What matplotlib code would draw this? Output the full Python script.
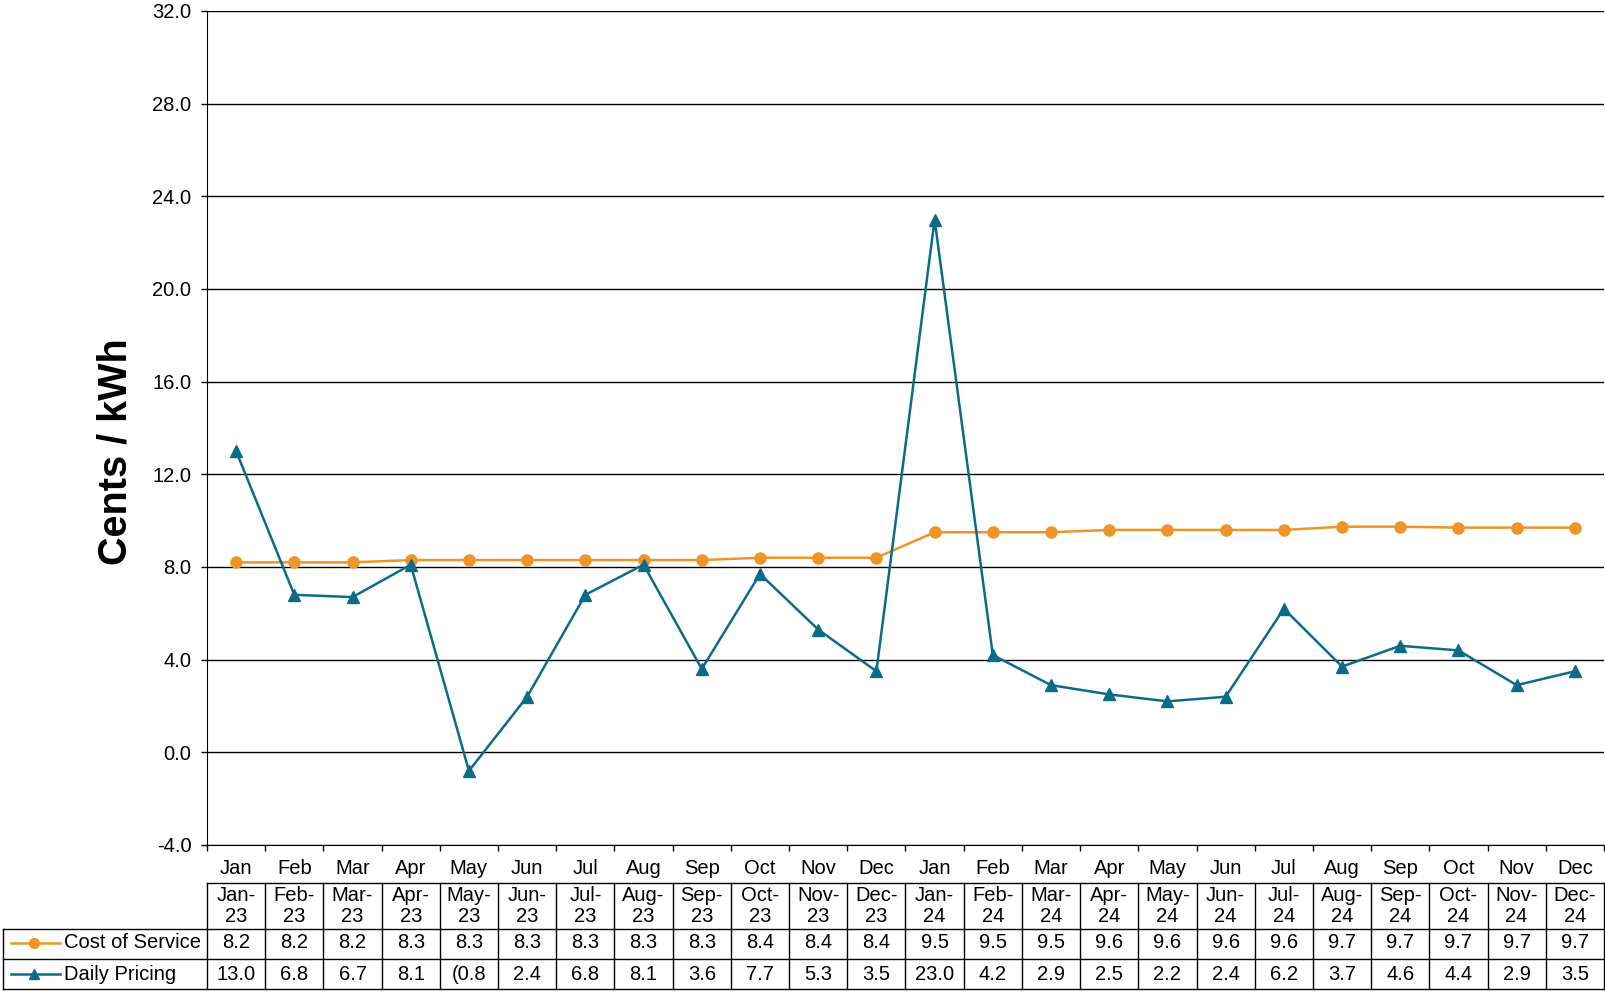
import matplotlib
matplotlib.use("Agg")
import matplotlib.pyplot as plt
from matplotlib.transforms import blended_transform_factory
from matplotlib.lines import Line2D

plt.rcParams['font.family'] = ['Liberation Sans', 'DejaVu Sans']

months = ["Jan", "Feb", "Mar", "Apr", "May", "Jun", "Jul", "Aug", "Sep", "Oct", "Nov", "Dec"] * 2
date_labels = [f"{m}-\n{y}" for y in ("23", "24") for m in
               ["Jan", "Feb", "Mar", "Apr", "May", "Jun", "Jul", "Aug", "Sep", "Oct", "Nov", "Dec"]]
cost_of_service = [8.2, 8.2, 8.2, 8.3, 8.3, 8.3, 8.3, 8.3, 8.3, 8.4, 8.4, 8.4,
                   9.5, 9.5, 9.5, 9.6, 9.6, 9.6, 9.6, 9.74, 9.74, 9.7, 9.7, 9.7]
daily_pricing = [13.0, 6.8, 6.7, 8.1, -0.8, 2.4, 6.8, 8.1, 3.6, 7.7, 5.3, 3.5,
                 23.0, 4.2, 2.9, 2.5, 2.2, 2.4, 6.2, 3.7, 4.6, 4.4, 2.9, 3.5]
yticks = [-4, 0, 4, 8, 12, 16, 20, 24, 28, 32]

ORANGE = "#EE9527"
TEAL = "#0B6C8A"

W, H = 1606, 993
fig = plt.figure(figsize=(W / 100, H / 100), dpi=100)
L, R, T, B = 207, 1604, 11, 845
ax = fig.add_axes([L / W, 1 - B / H, (R - L) / W, (B - T) / H])

n = len(months)
x = list(range(n))
ax.plot(x, cost_of_service, color=ORANGE, lw=1.8, marker='o', ms=8, zorder=3)
ax.plot(x, daily_pricing, color=TEAL, lw=1.8, marker='^', ms=8, zorder=4)

fs = 14.5
ax.set_xlim(-0.5, n - 0.5)
ax.set_ylim(-4, 32)
ax.set_yticks(yticks)
ax.set_yticklabels([f"{v:.1f}" for v in yticks], fontsize=fs)
ax.yaxis.grid(True, color='black', lw=1)
ax.set_axisbelow(True)
for s in ('top', 'right'):
    ax.spines[s].set_visible(False)
ax.spines['left'].set_color('black')
ax.spines['bottom'].set_color('black')
ax.tick_params(axis='y', length=4.3, width=1, pad=7)
ax.set_xticks([i - 0.5 for i in range(n + 1)])
ax.set_xticklabels([])
ax.tick_params(axis='x', length=4.3, width=1, direction='out')

fig.text(116 / W, 1 - 452 / H, "Cents / kWh", rotation=90, fontsize=28.5, fontweight='bold',
         ha='center', va='center')

# data table
tr = blended_transform_factory(ax.transData, fig.transFigure)
def fy(p):
    return 1 - p / H

y_month, y_top, y_mid1, y_mid2, y_bot = 869, 883, 929, 959, 989
for i in range(n):
    ax.text(i, fy(y_month), months[i], transform=tr, ha='center', va='center', fontsize=fs, clip_on=False)
    ax.text(i, fy(906), date_labels[i], transform=tr, ha='center', va='center', fontsize=fs,
            linespacing=1.15, clip_on=False)
    ax.text(i, fy(943), f"{cost_of_service[i]:.1f}", transform=tr, ha='center', va='center',
            fontsize=fs, clip_on=False)
    v = daily_pricing[i]
    s = f"{v:.1f}" if v >= 0 else f"({abs(v):.1f}"
    ax.text(i, fy(974), s, transform=tr, ha='center', va='center', fontsize=fs, clip_on=False)

lines = []
lines.append(Line2D([-0.5, n - 0.5], [fy(y_top)] * 2, transform=tr))
for yy in (y_mid1, y_mid2, y_bot):
    lines.append(Line2D([3 / W, R / W], [fy(yy)] * 2, transform=fig.transFigure))
for i in range(n + 1):
    lines.append(Line2D([i - 0.5] * 2, [fy(y_top), fy(y_bot)], transform=tr))
lines.append(Line2D([3 / W] * 2, [fy(y_mid1), fy(y_bot)], transform=fig.transFigure))
for ln in lines:
    ln.set_color('black')
    ln.set_linewidth(1)
    ln.set_clip_on(False)
    fig.add_artist(ln)

# legend keys in table
for yy, col, mk, label in ((943, ORANGE, 'o', "Cost of Service"), (974, TEAL, '^', "Daily Pricing")):
    fig.add_artist(Line2D([11 / W, 60 / W], [fy(yy)] * 2, transform=fig.transFigure, color=col, lw=1.8))
    fig.add_artist(Line2D([34 / W], [fy(yy)], transform=fig.transFigure, color=col, marker=mk, ms=7, lw=0))
    fig.text(64 / W, fy(yy), label, ha='left', va='center', fontsize=fs)

fig.savefig("out.png", dpi=100)
